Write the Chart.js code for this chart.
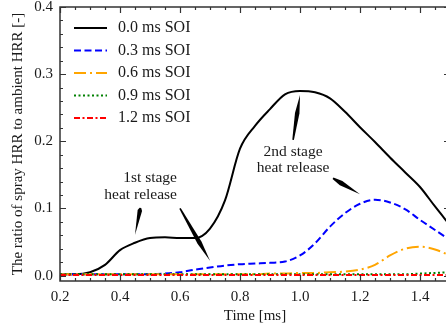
<!DOCTYPE html>
<html>
<head>
<meta charset="utf-8">
<script src="https://cdn.jsdelivr.net/npm/chart.js@4.4.1/dist/chart.umd.min.js"></script>
<style>
  html, body { margin: 0; padding: 0; background: #fff; overflow: hidden; }
  #wrap { width: 452px; height: 332px; position: relative; }
</style>
</head>
<body>
<div id="wrap"><canvas id="hrr"></canvas></div>
<script>
// time axis [ms]
const time = [0.20, 0.25, 0.30, 0.35, 0.40, 0.45, 0.50, 0.55, 0.60, 0.65, 0.70, 0.75, 0.80, 0.85,
              0.90, 0.95, 1.00, 1.05, 1.10, 1.15, 1.20, 1.25, 1.30, 1.35, 1.40, 1.45, 1.50];

// ratio of spray HRR to ambient HRR, one list per SOI
const soi00 = [0.002, 0.002, 0.005, 0.016, 0.038, 0.049, 0.056, 0.057, 0.056, 0.056, 0.070, 0.112, 0.189, 0.223,
               0.248, 0.270, 0.275, 0.273, 0.264, 0.244, 0.221, 0.199, 0.176, 0.154, 0.132, 0.103, 0.075];
const soi03 = [0.002, 0.002, 0.002, 0.002, 0.002, 0.002, 0.002, 0.003, 0.005, 0.009, 0.012, 0.015, 0.017, 0.018,
               0.019, 0.021, 0.030, 0.048, 0.073, 0.093, 0.107, 0.113, 0.109, 0.099, 0.083, 0.068, 0.053];
const soi06 = [0.002, 0.002, 0.002, 0.002, 0.002, 0.002, 0.002, 0.002, 0.002, 0.002, 0.002, 0.002, 0.002, 0.002,
               0.003, 0.003, 0.004, 0.004, 0.005, 0.006, 0.009, 0.016, 0.030, 0.040, 0.043, 0.039, 0.030];
const soi09 = [0.002, 0.002, 0.002, 0.002, 0.002, 0.002, 0.002, 0.002, 0.002, 0.002, 0.002, 0.002, 0.002, 0.002,
               0.002, 0.002, 0.002, 0.002, 0.002, 0.002, 0.002, 0.002, 0.002, 0.002, 0.003, 0.004, 0.005];
const soi12 = [0.001, 0.001, 0.001, 0.001, 0.001, 0.001, 0.001, 0.001, 0.001, 0.001, 0.001, 0.001, 0.001, 0.001,
               0.001, 0.001, 0.001, 0.001, 0.001, 0.001, 0.001, 0.001, 0.001, 0.001, 0.001, 0.001, 0.001];

const seriesNames = ['0.0 ms SOI', '0.3 ms SOI', '0.6 ms SOI', '0.9 ms SOI', '1.2 ms SOI'];
const xTicks = [0.2, 0.4, 0.6, 0.8, 1.0, 1.2, 1.4];
const yTicks = [0.0, 0.1, 0.2, 0.3, 0.4];

const FONT = '"Liberation Serif", "Times New Roman", serif';
const INK = '#1a1a1a';

const styles = [
    { color: '#000000', dash: [] },
    { color: '#0000ff', dash: [7, 3.5] },
    { color: '#ffa500', dash: [12, 4, 2, 4] },
    { color: '#008000', dash: [2, 2.5] },
    { color: '#ff0000', dash: [6, 2.5, 2, 2.5] },
];

function pts(values) {
    return time.map((t, i) => ({ x: t, y: values[i] }));
}

const allSeries = [soi00, soi03, soi06, soi09, soi12];

// frame with inward major/minor ticks on all four sides
const frameTicks = {
    id: 'frameTicks',
    afterDatasetsDraw(chart) {
        const { ctx, chartArea: a, scales: { x, y } } = chart;
        ctx.save();
        ctx.strokeStyle = '#333';
        ctx.lineWidth = 1.5;
        ctx.strokeRect(a.left, a.top, a.right - a.left, a.bottom - a.top);
        ctx.lineWidth = 1.2;
        ctx.beginPath();
        for (let k = 0; k <= 26; k++) {
            const v = 0.2 + k * 0.05;
            const px = Math.round(x.getPixelForValue(v)) + 0.5;
            const len = k % 4 === 0 ? 6 : 3;
            ctx.moveTo(px, a.bottom); ctx.lineTo(px, a.bottom - len);
            ctx.moveTo(px, a.top); ctx.lineTo(px, a.top + len);
        }
        for (let k = 0; k <= 20; k++) {
            const v = k * 0.02;
            const py = Math.round(y.getPixelForValue(v)) + 0.5;
            const len = k % 5 === 0 ? 6 : 3;
            ctx.moveTo(a.left, py); ctx.lineTo(a.left + len, py);
            ctx.moveTo(a.right, py); ctx.lineTo(a.right - len, py);
        }
        ctx.stroke();
        ctx.restore();
    }
};

// legend drawn inside the plot, top left
const innerLegend = {
    id: 'innerLegend',
    afterDraw(chart) {
        const { ctx } = chart;
        ctx.save();
        ctx.font = '16px ' + FONT;
        ctx.textBaseline = 'middle';
        ctx.fillStyle = INK;
        seriesNames.forEach((name, i) => {
            const yy = 28 + i * 22.5;
            ctx.strokeStyle = styles[i].color;
            ctx.lineWidth = 2;
            ctx.setLineDash(styles[i].dash);
            ctx.beginPath();
            ctx.moveTo(74, yy);
            ctx.lineTo(107, yy);
            ctx.stroke();
            ctx.fillText(name, 118, yy);
        });
        ctx.restore();
    }
};

// text notes and wedge arrows, placed in data coordinates
const notes = [
    { lines: ['1st stage', 'heat release'], x: 0.59, y: [0.145, 0.120], align: 'right' },
    { lines: ['2nd stage', 'heat release'], x: 0.977, y: [0.184, 0.160], align: 'center' },
];
const arrows = [
    { from: [0.468, 0.101], to: [0.450, 0.061], w: 4.5, at: 0.1 },
    { from: [0.600, 0.100], to: [0.700, 0.022], w: 4.5, at: 0.65 },
    { from: [0.977, 0.202], to: [1.000, 0.269], w: 4.5, at: 0.6 },
    { from: [1.110, 0.145], to: [1.200, 0.121], w: 5, at: 0.3 },
];

const annotate = {
    id: 'annotate',
    afterDatasetsDraw(chart) {
        const { ctx, scales: { x, y } } = chart;
        ctx.save();
        ctx.fillStyle = INK;
        ctx.font = '15.5px ' + FONT;
        ctx.textBaseline = 'middle';
        notes.forEach(n => {
            ctx.textAlign = n.align;
            n.lines.forEach((t, i) => ctx.fillText(t, x.getPixelForValue(n.x), y.getPixelForValue(n.y[i])));
        });
        ctx.fillStyle = '#000';
        arrows.forEach(ar => {
            const x0 = x.getPixelForValue(ar.from[0]), y0 = y.getPixelForValue(ar.from[1]);
            const x1 = x.getPixelForValue(ar.to[0]), y1 = y.getPixelForValue(ar.to[1]);
            const dx = x1 - x0, dy = y1 - y0;
            const L = Math.hypot(dx, dy);
            const nx = -dy / L, ny = dx / L;
            const mx = x0 + dx * ar.at, my = y0 + dy * ar.at;
            ctx.beginPath();
            ctx.moveTo(x0 + nx * 0.8, y0 + ny * 0.8);
            ctx.lineTo(mx + nx * ar.w / 2, my + ny * ar.w / 2);
            ctx.lineTo(x1, y1);
            ctx.lineTo(mx - nx * ar.w / 2, my - ny * ar.w / 2);
            ctx.lineTo(x0 - nx * 0.8, y0 - ny * 0.8);
            ctx.closePath();
            ctx.fill();
        });
        ctx.restore();
    }
};

new Chart(document.getElementById('hrr'), {
    type: 'line',
    data: {
        datasets: allSeries.map((vals, i) => ({
            label: seriesNames[i],
            data: pts(vals),
            borderColor: styles[i].color,
            borderDash: styles[i].dash,
            borderWidth: 2,
            pointRadius: 0,
            fill: false,
            cubicInterpolationMode: 'monotone',
            order: 4 - i,
        })),
    },
    options: {
        responsive: true,
        maintainAspectRatio: false,
        devicePixelRatio: 1,
        animation: false,
        layout: { padding: { top: 7, right: 2, left: 0, bottom: 0 } },
        plugins: { legend: { display: false }, tooltip: { enabled: false } },
        scales: {
            x: {
                type: 'linear',
                min: 0.2,
                max: 1.5,
                grid: { display: false, drawTicks: false },
                border: { display: false },
                afterBuildTicks: s => { s.ticks = xTicks.map(v => ({ value: v })); },
                afterFit: s => { s.height = 51; s.paddingLeft = 0; s.paddingRight = 0; },
                ticks: {
                    padding: 7,
                    color: INK,
                    font: { family: FONT, size: 15 },
                    maxRotation: 0,
                    callback: v => v.toFixed(1),
                },
                title: {
                    display: true,
                    text: 'Time [ms]',
                    color: INK,
                    font: { family: FONT, size: 15 },
                    padding: { top: 0, bottom: 7 },
                },
            },
            y: {
                type: 'linear',
                min: -0.008,
                max: 0.4,
                grid: { display: false, drawTicks: false },
                border: { display: false },
                afterBuildTicks: s => { s.ticks = yTicks.map(v => ({ value: v })); },
                afterFit: s => { s.width = 60; s.paddingTop = 0; s.paddingBottom = 0; },
                ticks: {
                    padding: 7,
                    color: INK,
                    font: { family: FONT, size: 15 },
                    callback: v => v.toFixed(1),
                },
                title: {
                    display: true,
                    text: 'The ratio of spray HRR to ambient HRR [-]',
                    color: INK,
                    font: { family: FONT, size: 15 },
                    padding: { top: 9, bottom: 0 },
                },
            },
        },
    },
    plugins: [frameTicks, annotate, innerLegend],
});
</script>
</body>
</html>
